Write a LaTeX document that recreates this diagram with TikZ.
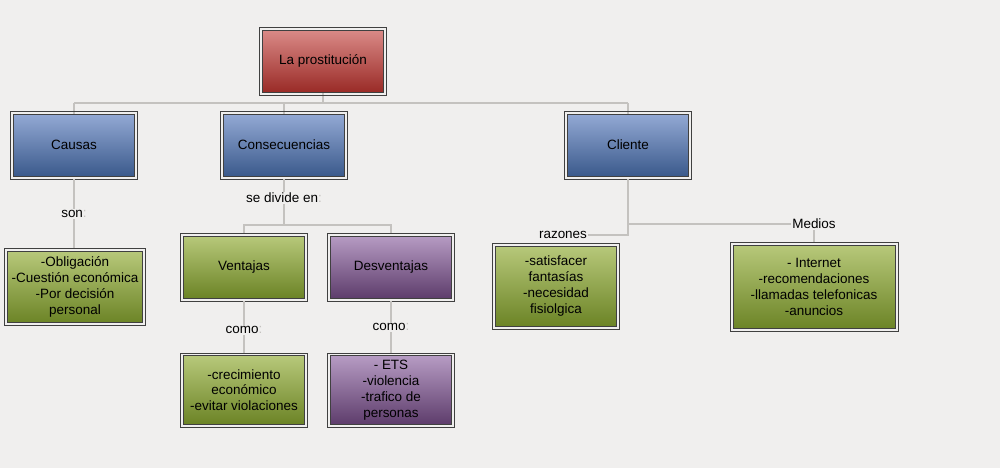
\documentclass[tikz,border=0pt]{standalone}
\usepackage{fontspec}
\setmainfont{Liberation Sans}
\definecolor{bgcol}{HTML}{F0EFEE}
\definecolor{linecol}{HTML}{C4C2BF}
\definecolor{redtop}{HTML}{DA8A87}
\definecolor{redbot}{HTML}{9A2B27}
\definecolor{bluetop}{HTML}{93A9D4}
\definecolor{bluebot}{HTML}{3B5A8C}
\definecolor{greentop}{HTML}{B7C87A}
\definecolor{greenbot}{HTML}{6C8426}
\definecolor{purpletop}{HTML}{B69BC3}
\definecolor{purplebot}{HTML}{5E3D6C}
\tikzset{
  box/.style={draw=black!75, line width=0.6pt,
    minimum width=3.62cm, minimum height=1.86cm, align=center, inner sep=2pt,
    font=\fontsize{11.5}{13.5}\selectfont},
  redbox/.style={box, top color=redtop, bottom color=redbot},
  bluebox/.style={box, top color=bluetop, bottom color=bluebot},
  greenbox/.style={box, top color=greentop, bottom color=greenbot},
  purplebox/.style={box, top color=purpletop, bottom color=purplebot},
  frame/.style={draw=black!75, line width=0.5pt},
  lbl/.style={fill=bgcol, inner sep=1pt, font=\fontsize{11.5}{13.5}\selectfont},
  conn/.style={draw=linecol, line width=1.2pt}
}
\newcommand{\pc}{\textcolor{linecol}{:}}
\begin{document}
\begin{tikzpicture}[x=0.03cm,y=-0.03cm]
\useasboundingbox[fill=bgcol] (0,0) rectangle (1000,468);

% connectors first, boxes on top
\coordinate (cl1) at (628,224);
\coordinate (cl2) at (628,235);
\draw[conn] (74,103) -- (628,103);
\draw[conn] (74,103) -- (74,120);
\draw[conn] (284,103) -- (284,120);
\draw[conn] (323,90) -- (323,103);
\draw[conn] (628,103) -- (628,120);

% boxes
\node[redbox] (prost) at (323,61) {La prostitución};
\node[bluebox] (causas) at (74,145) {Causas};
\node[bluebox] (conse) at (284,145) {Consecuencias};
\node[bluebox] (cliente) at (628,145) {Cliente};

\node[greenbox, minimum width=4.05cm, minimum height=2.15cm] (causaslist) at (75,287) {-Obligación\\-Cuestión económica\\-Por decisión\\personal};
\node[greenbox] (ventajas) at (244,267) {Ventajas};
\node[purplebox] (desventajas) at (391,267) {Desventajas};
\node[greenbox, minimum height=2.05cm] (ventlist) at (244,390) {-crecimiento\\económico\\-evitar violaciones};
\node[purplebox, minimum height=2.05cm] (desvlist) at (391,390) {- ETS\\-violencia\\-trafico de\\personas};
\node[greenbox, minimum height=2.4cm] (razlist) at (556,286) {-satisfacer\\fantasías\\-necesidad\\fisiolgica};
\node[greenbox, minimum width=4.86cm, minimum height=2.5cm] (medlist) at (814,287) {- Internet\\-recomendaciones\\-llamadas telefonicas\\-anuncios};

% outer frames
\foreach \n in {prost,causas,conse,cliente,causaslist,ventajas,desventajas,ventlist,desvlist,razlist,medlist}
  \draw[frame] ([shift={(-2.2pt,-2.2pt)}]\n.south west) rectangle ([shift={(2.2pt,2.2pt)}]\n.north east);

% labels
\node[lbl] (son) at (74,214) {son\pc};
\node[lbl] (divide) at (284,198) {se divide en\pc};
\node[lbl] (como1) at (244,330) {como\pc};
\node[lbl] (como2) at (391,327) {como\pc};
\node[lbl] (razones) at (563,235) {razones};
\node[lbl] (medios) at (814,224) {Medios};

\draw[conn] ([yshift=-2.2pt]causas.south) -- (son.north);
\draw[conn] (son.south) -- ([yshift=2.2pt]son.south |- causaslist.north);
\draw[conn] ([yshift=-2.2pt]conse.south) -- (divide.north);
\draw[conn] (divide.south) |- (244,225) -- ([yshift=2.2pt]ventajas.north);
\draw[conn] (divide.south) |- (391,225) -- ([yshift=2.2pt]desventajas.north);
\draw[conn] ([yshift=-2.2pt]ventajas.south) -- (como1.north);
\draw[conn] (como1.south) -- ([yshift=2.2pt]ventlist.north);
\draw[conn] ([yshift=-2.2pt]desventajas.south) -- (como2.north);
\draw[conn] (como2.south) -- ([yshift=2.2pt]desvlist.north);
\draw[conn] ([yshift=-2.2pt]cliente.south) -- (cl2) -- (razones.east);
\draw[conn] (cl1) -- (medios.west);
\draw[conn] (medios.south) -- ([yshift=2.2pt]medlist.north);
\end{tikzpicture}
\end{document}
